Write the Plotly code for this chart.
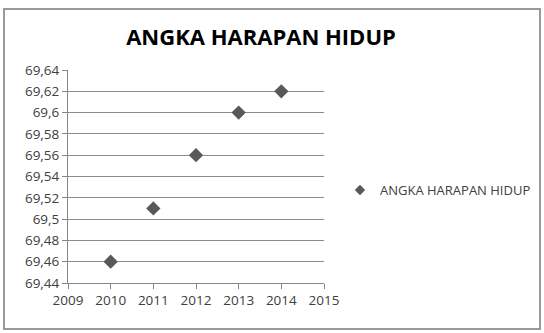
import plotly.graph_objects as go

years = [2010, 2011, 2012, 2013, 2014]
values = [69.46, 69.51, 69.56, 69.60, 69.62]
series_name = "ANGKA HARAPAN HIDUP"
title_text = "ANGKA HARAPAN HIDUP"
y_ticks = [69.44, 69.46, 69.48, 69.50, 69.52, 69.54, 69.56, 69.58, 69.60, 69.62, 69.64]
y_tick_labels = ["69,44", "69,46", "69,48", "69,5", "69,52", "69,54", "69,56", "69,58", "69,6", "69,62", "69,64"]
x_ticks = [2009, 2010, 2011, 2012, 2013, 2014, 2015]

fig = go.Figure()
fig.add_trace(go.Scatter(
    x=years, y=values, mode="markers", name=series_name,
    marker=dict(symbol="diamond", size=11, color="#595959"),
    showlegend=False,
))
# legend entry with the smaller legend marker
fig.add_trace(go.Scatter(
    x=[None], y=[None], mode="markers", name=series_name,
    marker=dict(symbol="diamond", size=8, color="#595959"),
    showlegend=True,
))

axis_font = dict(family="Open Sans, Liberation Sans, sans-serif", size=13.5, color="#404040")

fig.update_layout(
    width=544, height=333,
    margin=dict(l=68, r=220, t=70, b=50, autoexpand=False),
    paper_bgcolor="white", plot_bgcolor="white",
    title=dict(text=title_text, x=261/544, xanchor="center", y=1-37/333, yanchor="middle",
               font=dict(family="Open Sans, sans-serif", size=22, color="black", weight="bold")),
    xaxis=dict(range=[2009, 2015], tickvals=x_ticks, showgrid=False,
               showline=True, linecolor="#878787", linewidth=1,
               ticks="outside", ticklen=5, tickcolor="#878787",
               tickfont=axis_font, zeroline=False),
    yaxis=dict(range=[69.44, 69.64], tickvals=y_ticks, ticktext=y_tick_labels,
               showgrid=True, gridcolor="#8c8c8c", gridwidth=1,
               showline=True, linecolor="#878787", linewidth=1,
               ticks="outside", ticklen=5, tickcolor="#878787",
               tickfont=axis_font, zeroline=False),
    legend=dict(x=(340-68)/256, y=(283-190)/213, xanchor="left", yanchor="middle",
                font=dict(family="Open Sans, sans-serif", size=13, color="#404040"),
                itemwidth=30, tracegroupgap=0),
    shapes=[dict(type="rect", xref="paper", yref="paper",
                 x0=(4-68)/256, x1=(540-68)/256, y0=(283-329)/213, y1=(283-9)/213,
                 line=dict(color="#9a9a9a", width=2), fillcolor="rgba(0,0,0,0)", layer="below")],
)

fig.write_html("out.html")
